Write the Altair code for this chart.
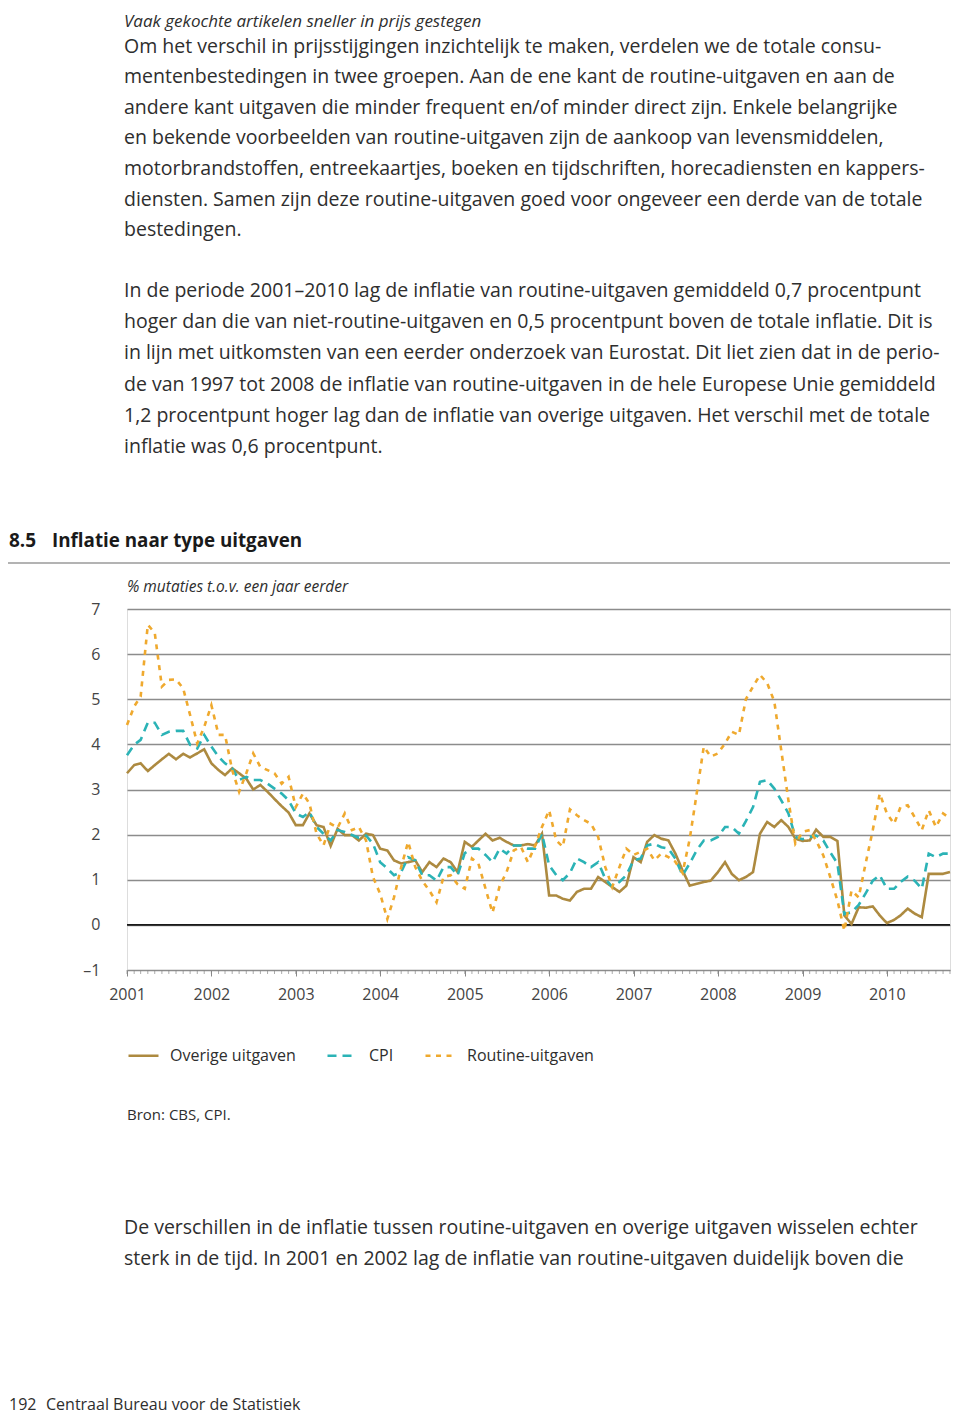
import altair as alt
import pandas as pd

# ---------------- data ----------------
series_names = ["Overige uitgaven", "CPI", "Routine-uitgaven"]
series_colors = ["#AD8A40", "#2BB3B6", "#EFA92E"]
series_dashes = [[1, 0], [9, 6], [5, 5.5]]

overige = [3.36, 3.54, 3.58, 3.41, 3.54, 3.67, 3.79, 3.67, 3.79, 3.71, 3.80, 3.89,
           3.58, 3.43, 3.32, 3.47, 3.36, 3.24, 3.00, 3.10, 2.95, 2.79, 2.63, 2.49,
           2.21, 2.21, 2.47, 2.21, 2.17, 1.75, 2.13, 1.99, 1.99, 1.87, 2.02, 1.99,
           1.69, 1.65, 1.43, 1.36, 1.39, 1.43, 1.17, 1.39, 1.28, 1.47, 1.39, 1.17,
           1.84, 1.73, 1.87, 2.02, 1.87, 1.93, 1.84, 1.76, 1.76, 1.79, 1.76, 2.02,
           0.65, 0.65, 0.58, 0.54, 0.73, 0.80, 0.80, 1.06, 0.95, 0.84, 0.73, 0.87,
           1.50, 1.39, 1.84, 1.99, 1.91, 1.87, 1.58, 1.21, 0.87, 0.91, 0.95, 0.98,
           1.17, 1.39, 1.13, 0.99, 1.06, 1.17, 2.02, 2.28, 2.17, 2.32, 2.17, 1.91,
           1.86, 1.87, 2.11, 1.95, 1.95, 1.86, 0.21, 0.02, 0.39, 0.38, 0.41, 0.21,
           0.04, 0.11, 0.21, 0.36, 0.25, 0.17, 1.13, 1.13, 1.13, 1.17]

cpi = [3.76, 3.99, 4.10, 4.48, 4.48, 4.21, 4.28, 4.30, 4.30, 3.99, 3.91, 4.21,
       3.95, 3.73, 3.58, 3.47, 3.21, 3.28, 3.21, 3.21, 3.13, 3.02, 2.91, 2.76,
       2.47, 2.39, 2.50, 2.17, 2.02, 1.87, 2.10, 2.06, 1.99, 1.93, 1.98, 1.80,
       1.39, 1.25, 1.10, 1.17, 1.50, 1.43, 1.10, 1.10, 0.98, 1.28, 1.28, 1.10,
       1.59, 1.69, 1.69, 1.55, 1.39, 1.69, 1.58, 1.76, 1.76, 1.69, 1.69, 2.02,
       1.32, 1.10, 0.99, 1.15, 1.47, 1.39, 1.28, 1.39, 1.02, 0.84, 0.95, 1.10,
       1.43, 1.47, 1.76, 1.80, 1.72, 1.69, 1.47, 1.10, 1.36, 1.65, 1.87, 1.87,
       1.95, 2.17, 2.17, 2.02, 2.30, 2.61, 3.17, 3.21, 3.02, 2.76, 2.47, 1.95,
       1.90, 1.95, 1.98, 1.87, 1.61, 1.36, 0.24, 0.28, 0.44, 0.70, 0.98, 1.10,
       0.80, 0.80, 0.95, 1.07, 0.98, 0.80, 1.58, 1.50, 1.58, 1.58]

routine = [4.43, 4.84, 5.06, 6.65, 6.47, 5.28, 5.43, 5.44, 5.24, 4.65, 4.02, 4.39,
           4.87, 4.21, 4.21, 3.43, 2.95, 3.36, 3.80, 3.50, 3.43, 3.36, 3.13, 3.28,
           2.61, 2.91, 2.69, 2.02, 1.76, 2.24, 2.15, 2.47, 2.10, 2.17, 1.87, 1.06,
           0.69, 0.13, 0.61, 1.28, 1.84, 1.28, 0.98, 0.76, 0.50, 1.06, 1.10, 0.90,
           0.80, 1.47, 1.36, 0.80, 0.27, 0.86, 1.17, 1.65, 1.73, 1.39, 1.75, 2.17,
           2.54, 1.87, 1.73, 2.56, 2.43, 2.32, 2.24, 1.95, 1.28, 0.84, 1.28, 1.69,
           1.55, 1.62, 1.69, 1.43, 1.58, 1.50, 1.40, 1.15, 1.90, 2.90, 3.95, 3.73,
           3.80, 4.02, 4.28, 4.21, 5.00, 5.28, 5.54, 5.36, 4.95, 3.87, 2.76, 1.80,
           2.06, 2.10, 1.87, 1.54, 1.06, 0.54, -0.13, 0.76, 0.61, 1.36, 2.10, 2.91,
           2.47, 2.24, 2.61, 2.65, 2.39, 2.10, 2.54, 2.17, 2.47, 2.36]

year_labels = list(range(2001, 2011))
y_ticks = list(range(-1, 8))

title_number = "8.5"
title_text = "Inflatie naar type uitgaven"
subtitle_text = "% mutaties t.o.v. een jaar eerder"
source_text = "Bron: CBS, CPI."

intro_heading = "Vaak gekochte artikelen sneller in prijs gestegen"
para1 = [
    "Om het verschil in prijsstijgingen inzichtelijk te maken, verdelen we de totale consu-",
    "mentenbestedingen in twee groepen. Aan de ene kant de routine-uitgaven en aan de",
    "andere kant uitgaven die minder frequent en/of minder direct zijn. Enkele belangrijke",
    "en bekende voorbeelden van routine-uitgaven zijn de aankoop van levensmiddelen,",
    "motorbrandstoffen, entreekaartjes, boeken en tijdschriften, horecadiensten en kappers-",
    "diensten. Samen zijn deze routine-uitgaven goed voor ongeveer een derde van de totale",
    "bestedingen.",
]
para2 = [
    "In de periode 2001–2010 lag de inflatie van routine-uitgaven gemiddeld 0,7 procentpunt",
    "hoger dan die van niet-routine-uitgaven en 0,5 procentpunt boven de totale inflatie. Dit is",
    "in lijn met uitkomsten van een eerder onderzoek van Eurostat. Dit liet zien dat in de perio-",
    "de van 1997 tot 2008 de inflatie van routine-uitgaven in de hele Europese Unie gemiddeld",
    "1,2 procentpunt hoger lag dan de inflatie van overige uitgaven. Het verschil met de totale",
    "inflatie was 0,6 procentpunt.",
]
para3 = [
    "De verschillen in de inflatie tussen routine-uitgaven en overige uitgaven wisselen echter",
    "sterk in de tijd. In 2001 en 2002 lag de inflatie van routine-uitgaven duidelijk boven die",
]
footer_page = "192"
footer_text = "Centraal Bureau voor de Statistiek"

# ---------------- layout ----------------
W, H = 823, 361            # plot area
OX, OY = 127, 609          # plot origin on the page
PAD = {"left": OX - 8, "top": OY - 8, "right": 944 - (OX - 8) - W,
       "bottom": 1409 - (OY - 8) - H}

FONT = "Open Sans"
TEXT_COL = "#2e2e2e"

dates = pd.date_range("2001-01-01", periods=len(overige), freq="MS")
n = len(dates)
df = pd.DataFrame({
    "date": list(dates) * 3,
    "value": overige + cpi + routine,
    "series": [series_names[0]] * n + [series_names[1]] * n + [series_names[2]] * n,
})
months = pd.DataFrame({"date": dates})

x_scale = alt.Scale(domain=[alt.DateTime(year=2001, month=1, date=1),
                            alt.DateTime(year=int(dates[-1].year), month=int(dates[-1].month), date=1)])
y_scale = alt.Scale(domain=[-1, 7], nice=False, zero=False)

legend = alt.Legend(orient="none", legendX=0, legendY=430, direction="horizontal",
                    title=None, symbolType="stroke", symbolSize=900,
                    symbolStrokeWidth=2.6, labelFontSize=16, labelFont=FONT,
                    labelColor=TEXT_COL, columnPadding=26, labelOffset=10)

x_enc = alt.X("date:T", scale=x_scale,
              axis=alt.Axis(values=[alt.DateTime(year=y, month=1, date=1) for y in year_labels],
                            format="%Y", domain=False, tickSize=6, tickColor="#888",
                            tickWidth=1, labelFontSize=16, labelFont=FONT, labelFlush=False,
                            labelColor="#444", labelPadding=10, grid=False, title=None))
y_enc = alt.Y("value:Q", scale=y_scale,
              axis=alt.Axis(values=y_ticks, grid=True, gridColor="#8c8c8c", gridWidth=1.3,
                            domain=False, ticks=False, labelPadding=27, labelFontSize=16,
                            labelFont=FONT, labelColor="#444", title=None,
                            labelExpr="datum.value < 0 ? '–' + abs(datum.value) : datum.label"))

lines = alt.Chart(df).mark_line(strokeWidth=2.6).encode(
    x=x_enc,
    y=y_enc,
    color=alt.Color("series:N", scale=alt.Scale(domain=series_names, range=series_colors),
                    legend=legend, sort=series_names),
    strokeDash=alt.StrokeDash("series:N", scale=alt.Scale(domain=series_names, range=series_dashes),
                              legend=legend, sort=series_names),
    order=alt.Order("date:T"),
)

zero = alt.Chart(pd.DataFrame({"value": [0]})).mark_rule(color="#1a1a1a", strokeWidth=1.8).encode(
    y=alt.Y("value:Q", scale=y_scale))

month_ticks = alt.Chart(months).mark_tick(color="#888", thickness=1, size=4).encode(
    x=alt.X("date:T", scale=x_scale), y=alt.value(H + 2))


def text_line(s, x_page, y_page, size, weight="normal", style="normal", color=TEXT_COL):
    return alt.Chart(pd.DataFrame({"t": [s]})).mark_text(
        align="left", baseline="alphabetic", font=FONT, fontSize=size,
        fontWeight=weight, fontStyle=style, color=color
    ).encode(x=alt.value(x_page - OX), y=alt.value(y_page - OY), text="t:N")


def paragraph(lines_, x_page, y_first, lh, size):
    return [text_line(s, x_page, y_first + k * lh, size) for k, s in enumerate(lines_)]


texts = []
texts.append(text_line(intro_heading, 124, 26.5, 17, style="italic"))
texts += paragraph(para1, 124, 52.5, 30.6, 19.5)
texts += paragraph(para2, 124, 297, 31.2, 19.5)
texts += paragraph(para3, 124, 1234, 31.2, 19.5)
texts.append(text_line(title_number, 9, 547, 19, weight="bold", color="#1a1a1a"))
texts.append(text_line(title_text, 52, 547, 18.8, weight="bold", color="#1a1a1a"))
texts.append(text_line(subtitle_text, 127, 592, 15.5, style="italic"))
texts.append(text_line(source_text, 127, 1120, 15))
texts.append(text_line(footer_page, 9, 1410, 16))
texts.append(text_line(footer_text, 46, 1410, 16))

title_rule = alt.Chart(pd.DataFrame({"a": [0]})).mark_rule(color="#9a9a9a", strokeWidth=1.5).encode(
    x=alt.value(0 - OX), x2=alt.value(950 - OX), y=alt.value(563 - OY))

chart = alt.layer(zero, month_ticks, lines, title_rule, *texts).properties(
    width=W, height=H,
    autosize=alt.AutoSizeParams(type="none"),
    padding=PAD,
).configure_view(stroke="#8c8c8c", strokeWidth=1.5).configure(background="white")

chart.save("out.html", embed_options={"renderer": "svg", "actions": False})
